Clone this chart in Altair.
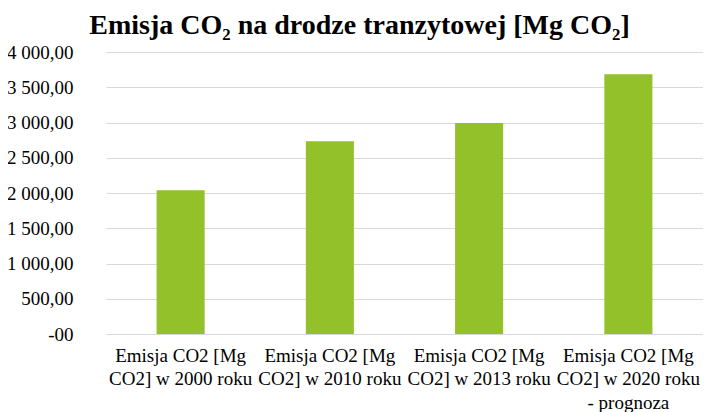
import altair as alt
import pandas as pd

categories = [
    "Emisja CO2 [Mg\nCO2] w 2000 roku",
    "Emisja CO2 [Mg\nCO2] w 2010 roku",
    "Emisja CO2 [Mg\nCO2] w 2013 roku",
    "Emisja CO2 [Mg\nCO2] w 2020 roku\n- prognoza",
]
values = [2040.0, 2735.0, 2993.0, 3685.0]
y_ticks = [0, 500, 1000, 1500, 2000, 2500, 3000, 3500, 4000]
y_tick_labels = ["-00", "500,00", "1 000,00", "1 500,00", "2 000,00",
                 "2 500,00", "3 000,00", "3 500,00", "4 000,00"]
title_text = "Emisja CO\u2082 na drodze tranzytowej [Mg CO\u2082]"

df = pd.DataFrame({"cat": categories, "val": values})

ticks_js = "[" + ",".join(str(v) for v in y_ticks) + "]"
labels_js = "[" + ",".join("'" + s + "'" for s in y_tick_labels) + "]"
y_label_expr = f"{labels_js}[indexof({ticks_js}, datum.value)]"

FONT = "Liberation Serif"

chart = (
    alt.Chart(df)
    .mark_bar(color="#93C12A")
    .encode(
        x=alt.X(
            "cat:N",
            sort=categories,
            title=None,
            scale=alt.Scale(paddingInner=0.678, paddingOuter=0.339),
            axis=alt.Axis(
                labelExpr="split(datum.label, '\\n')",
                labelAngle=0,
                labelFont=FONT,
                labelFontSize=19,
                labelColor="#000000",
                labelLineHeight=23.5,
                labelPadding=12,
                labelLimit=0,
                ticks=False,
                domain=True,
                domainColor="#D9D9D9",
                domainWidth=1,
                grid=False,
            ),
        ),
        y=alt.Y(
            "val:Q",
            title=None,
            scale=alt.Scale(domain=[0, 4000], nice=False),
            axis=alt.Axis(
                values=y_ticks,
                labelExpr=y_label_expr,
                labelFont=FONT,
                labelFontSize=19,
                labelColor="#000000",
                labelPadding=33,
                ticks=False,
                domain=False,
                grid=True,
                gridColor="#D9D9D9",
                gridWidth=1,
            ),
        ),
    )
    .properties(
        width=597,
        height=282,
        autosize=alt.AutoSizeParams(type="none"),
        padding={"left": 98, "top": 44, "right": 0, "bottom": 78},
        title=alt.TitleParams(
            text=title_text,
            font=FONT,
            fontSize=28,
            fontWeight="bold",
            color="#000000",
            anchor="middle",
            dx=-45,
            offset=3,
        ),
    )
    .configure_view(stroke=None)
)

chart.save("out.html", embed_options={"renderer": "svg", "actions": False})
